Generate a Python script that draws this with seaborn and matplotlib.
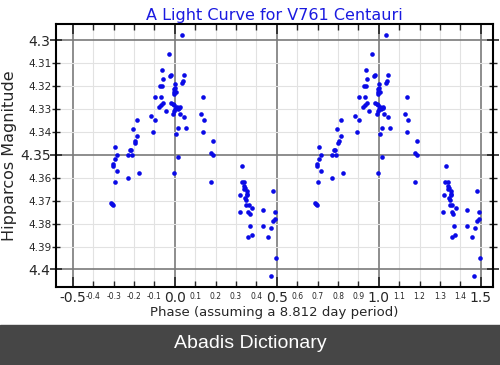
import numpy as np
import pandas as pd
import matplotlib
matplotlib.use("Agg")
import matplotlib.pyplot as plt
import seaborn as sns
from matplotlib.ticker import MultipleLocator, FormatStrFormatter

# phase (folded into -0.5..0.5) and Hipparcos magnitude
phase = [
    # peak
    -0.031, -0.065, -0.018, -0.026, 0.044, 0.039, 0.034, -0.059, 0.000, -0.074,
    -0.064, -0.005, 0.002, -0.002, 0.004, -0.006, -0.098, -0.069, -0.059, -0.069,
    -0.020, -0.011, -0.002, -0.078, -0.046, 0.008, 0.020, 0.023, -0.006, 0.003,
    0.013, -0.010, 0.026, -0.117, 0.047, -0.096, 0.054, 0.016, 0.005, 0.015,
    -0.006, 0.034,
    # rising branch
    -0.185, -0.206, -0.109, -0.186, -0.194, -0.198, -0.294, -0.217, -0.222, -0.284,
    -0.230, -0.211, -0.292, -0.302, -0.304, -0.283, -0.175, -0.230, -0.296, -0.315,
    -0.310, -0.305,
    # falling branch
    0.137, 0.127, 0.145, 0.136, 0.186, 0.178, 0.185, 0.176,
    # minimum
    0.330, 0.327, 0.340, 0.340, 0.346, 0.337, 0.353, 0.356, 0.353, 0.320,
    0.346, 0.350, 0.350, 0.361, 0.379, 0.317, 0.359, 0.366, 0.369, 0.376,
    0.358, 0.431, 0.433, 0.480, 0.490, 0.489, 0.480, 0.471, 0.459, 0.497,
    0.469,
]
magnitude = [
    4.306, 4.313, 4.315, 4.3157, 4.315, 4.3176, 4.3185, 4.3171, 4.319, 4.3198,
    4.3198, 4.3214, 4.321, 4.3224, 4.3228, 4.3233, 4.325, 4.325, 4.3276, 4.3285,
    4.3276, 4.328, 4.3285, 4.3293, 4.3308, 4.329, 4.3295, 4.329, 4.3311, 4.3301,
    4.330, 4.332, 4.332, 4.3330, 4.3336, 4.335, 4.3381, 4.3381, 4.3411, 4.3509,
    4.358, 4.2978,
    4.335, 4.3389, 4.340, 4.3419, 4.344, 4.345, 4.3468, 4.3478, 4.3478, 4.3499,
    4.350, 4.350, 4.352, 4.3538, 4.3548, 4.357, 4.358, 4.360, 4.3618, 4.3708,
    4.3715, 4.372,
    4.325, 4.332, 4.335, 4.340, 4.344, 4.3491, 4.350, 4.362,
    4.3549, 4.3618, 4.3618, 4.3637, 4.3645, 4.3648, 4.366, 4.3669, 4.3675, 4.3677,
    4.369, 4.3698, 4.372, 4.372, 4.3733, 4.3749, 4.375, 4.3757, 4.381, 4.385,
    4.3859, 4.374, 4.381, 4.366, 4.375, 4.378, 4.3789, 4.3818, 4.386, 4.395,
    4.403,
]

title = "A Light Curve for V761 Centauri"
xlabel = "Phase (assuming a 8.812 day period)"
ylabel = "Hipparcos Magnitude"

# each cycle is drawn twice, at phase and phase + 1
df = pd.DataFrame({
    "phase": np.concatenate([phase, np.array(phase) + 1.0]),
    "mag": np.concatenate([magnitude, magnitude]),
})

sns.set_style("white")
plt.rcParams["font.family"] = ["DejaVu Sans"]
plt.rcParams["axes.unicode_minus"] = False

fig = plt.figure(figsize=(5, 3.65), dpi=100)
ax = fig.add_axes([0.112, 0.214, 0.874, 0.720])

sns.scatterplot(data=df, x="phase", y="mag", ax=ax, color="#0a0ae6",
                s=11, linewidth=0, zorder=3)

ax.set_xlim(-0.583, 1.56)
ax.set_ylim(4.4076, 4.293)

ax.xaxis.set_major_locator(MultipleLocator(0.5))
ax.xaxis.set_minor_locator(MultipleLocator(0.1))
ax.yaxis.set_major_locator(MultipleLocator(0.05))
ax.yaxis.set_minor_locator(MultipleLocator(0.01))
ax.xaxis.set_major_formatter(FormatStrFormatter("%.1f"))
ax.xaxis.set_minor_formatter(FormatStrFormatter("%.1f"))
ax.yaxis.set_major_formatter(FormatStrFormatter("%g"))
ax.yaxis.set_minor_formatter(FormatStrFormatter("%g"))

ax.grid(True, which="major", color="#7a7a7a", linewidth=1.2, zorder=1)
ax.grid(True, which="minor", color="#e2e2e2", linewidth=0.8, zorder=0)
ax.set_axisbelow(True)

ax.tick_params(axis="x", which="both", direction="in", top=True, bottom=True)
ax.tick_params(axis="x", which="major", length=7, width=1.2, labelsize=10, pad=3)
ax.tick_params(axis="x", which="minor", length=4, width=1, labelsize=5.5, pad=4)
ax.tick_params(axis="y", which="both", direction="inout", left=True, right=True)
ax.tick_params(axis="y", which="major", length=8, width=1.2, labelsize=10, pad=0)
ax.tick_params(axis="y", which="minor", length=6, width=1, labelsize=7.5, pad=0)

for sp in ax.spines.values():
    sp.set_color("black")
    sp.set_linewidth(1.5)

ax.set_title(title, color="#1a1ae0", fontsize=11.5, pad=3)
ax.set_xlabel(xlabel, fontsize=9.5, labelpad=1)
ax.set_ylabel(ylabel, fontsize=11.5, labelpad=2)

# dark banner at the bottom
fig.patches.append(plt.Rectangle((0, 0), 1, 40 / 365, transform=fig.transFigure,
                                 color="#464646", zorder=0))
fig.text(0.5, 22 / 365, "Abadis Dictionary", color="white", ha="center",
         va="center", fontsize=14, family=["Liberation Sans", "DejaVu Sans"])

fig.savefig("out.png", dpi=100)
